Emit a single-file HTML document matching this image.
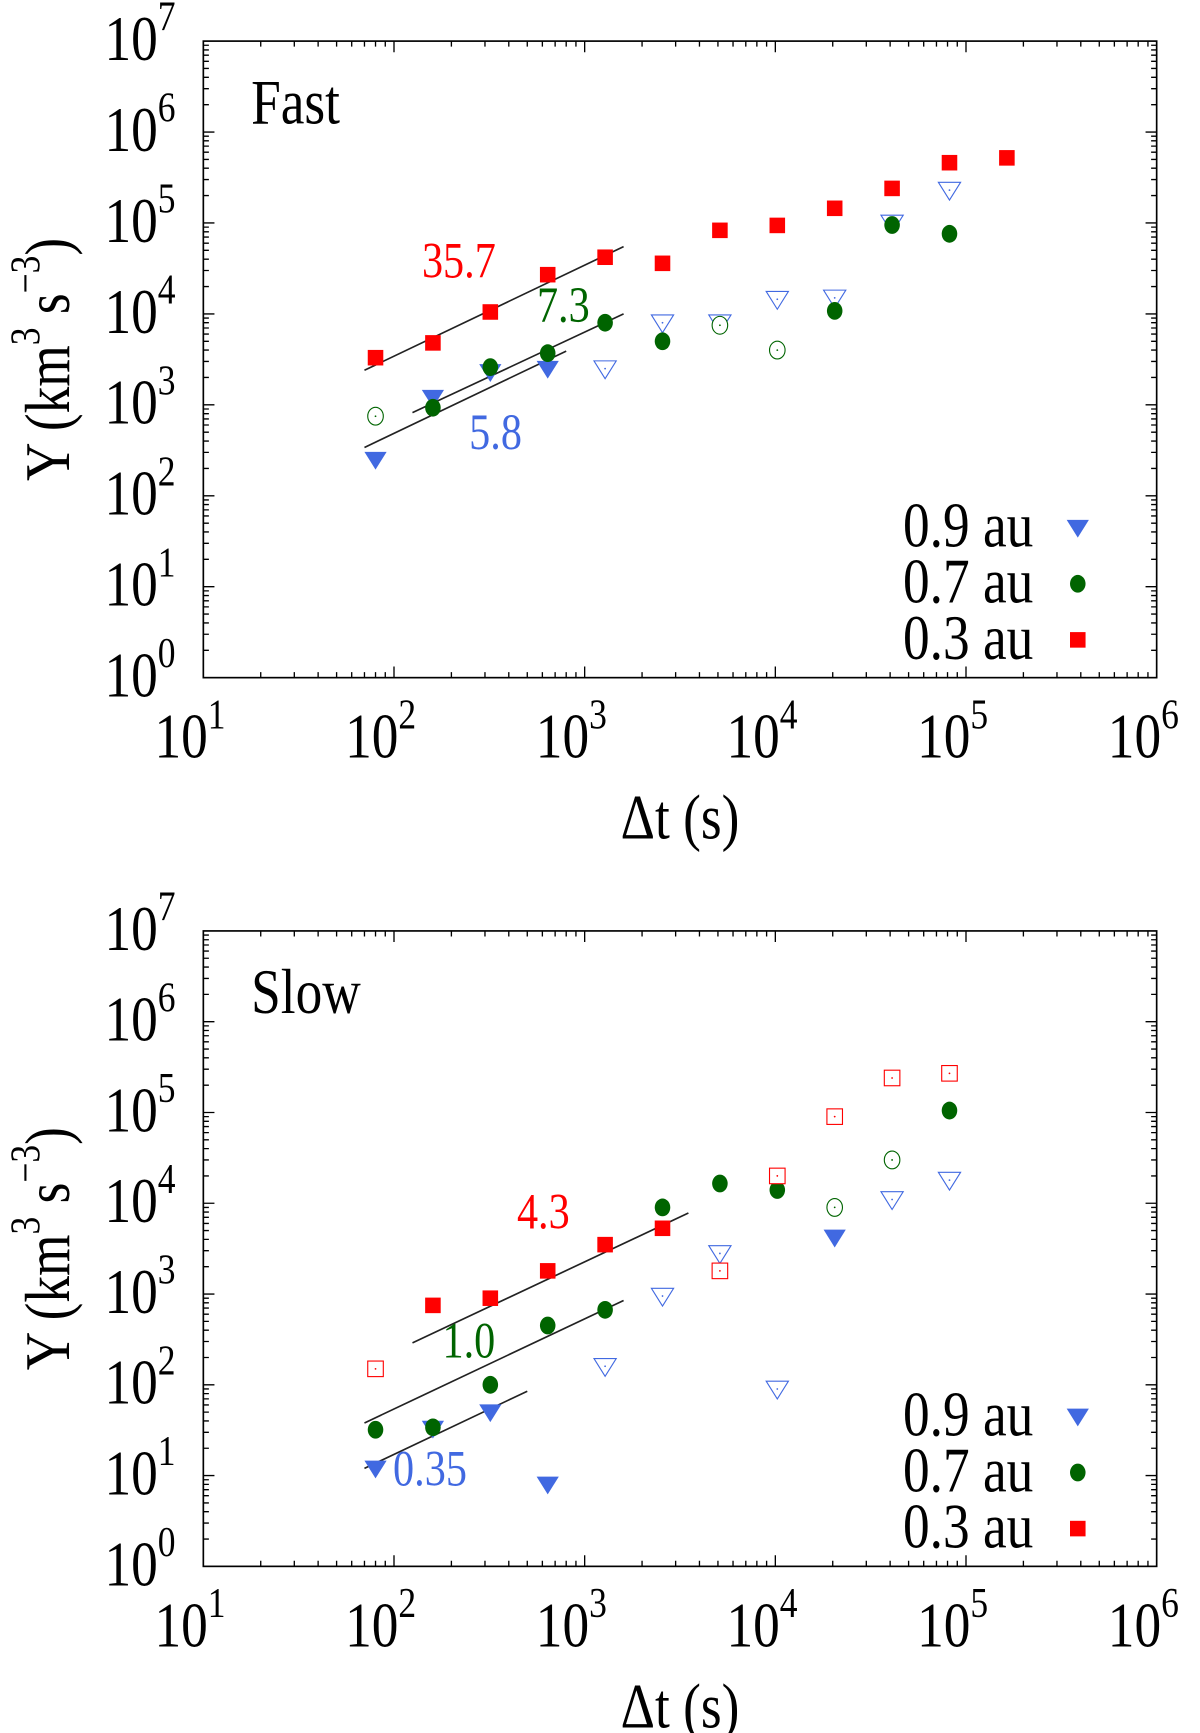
<!DOCTYPE html>
<html><head><meta charset="utf-8"><style>
html,body{margin:0;padding:0;background:#fff;}
svg{display:block;font-family:"Liberation Serif",serif;}
</style></head><body>
<svg id="chart" width="1200" height="1733" viewBox="0 0 1080 1560" preserveAspectRatio="none" xmlns="http://www.w3.org/2000/svg"></svg>
<script>
const xs = [80,160,320,640,1280,2560,5120,10240,20480,40960,81920,163840];
// Fast panel: [x-index, value, filled]
const fastRed   = [[0,3300,1],[1,4800,1],[2,10500,1],[3,27000,1],[4,42000,1],[5,36000,1],[6,83000,1],[7,94000,1],[8,145000,1],[9,240000,1],[10,460000,1],[11,520000,1]];
const fastGreen = [[0,750,0],[1,930,1],[2,2600,1],[3,3700,1],[4,8000,1],[5,5000,1],[6,7500,0],[7,4000,0],[8,10800,1],[9,95000,1],[10,76000,1]];
const fastBlue  = [[0,250,1],[1,1200,1],[2,2300,1],[3,2500,1],[4,2500,0],[5,8000,0],[6,8000,0],[7,14500,0],[8,15000,0],[9,100000,0],[10,230000,0]];
const fastFits  = [[70,2400,1600,55000],[125,820,1600,10000],[70,340,800,3900]];
const fastLabels= [['35.7',413,250,'#ff0000'],['7.3',507,290,'#006400'],['5.8',446,404,'#4169e1']];
// Slow panel
const slowRed   = [[0,150,0],[1,750,1],[2,900,1],[3,1800,1],[4,3500,1],[5,5300,1],[6,1800,0],[7,20000,0],[8,90000,0],[9,240000,0],[10,270000,0]];
const slowGreen = [[0,32,1],[1,34,1],[2,100,1],[3,450,1],[4,670,1],[5,9000,1],[6,16500,1],[7,14000,1],[8,9000,0],[9,30000,0],[10,105000,1]];
const slowBlue  = [[0,12,1],[1,33,1],[2,50,1],[3,8,1],[4,160,0],[5,950,0],[6,2800,0],[7,90,0],[8,4200,1],[9,11000,0],[10,18000,0]];
const slowFits  = [[125,290,3500,7800],[70,38,1600,850],[70,12,500,85]];
const slowLabels= [['4.3',489,1106,'#ff0000'],['1.0',422,1222,'#006400'],['0.35',387,1337,'#4169e1']];
const xTicks = [1,2,3,4,5,6];
const yTicks = [0,1,2,3,4,5,6,7];

const svg = document.getElementById('chart');
const NS = 'http://www.w3.org/2000/svg';
function el(tag, attrs, parent){const e=document.createElementNS(NS,tag);for(const k in attrs)e.setAttribute(k,attrs[k]);(parent||svg).appendChild(e);return e;}
function txt(x,y,size,sy,attrs,parent){const a=Object.assign({x:0,y:0,'font-size':size,transform:`translate(${x} ${y}) scale(1 ${sy})`},attrs);return el('text',a,parent);}
const RED='#ff0000', GREEN='#006400', BLUE='#4169e1';

function panel(top, bottom, title, red, green, blue, fits, labels, legY, name){
  const L=183,R=1041;
  const g=el('g',{});
  
  
  const X=v=>L+(Math.log10(v)-1)/5*(R-L);
  const Y=v=>bottom-Math.log10(v)/7*(bottom-top);
  const fr=el('rect',{x:L,y:top,width:R-L,height:bottom-top,fill:'none',stroke:'#000','stroke-width':1.5},g);
  
  
  let d='';
  for(let e=1;e<6;e++)for(let m=1;m<10;m++){const x=X(m*Math.pow(10,e));const len=m===1?10:5;
    if(m===1&&e===1)continue;
    d+=`M${x} ${bottom}v${-len}M${x} ${top}v${len}`;}
  for(let e=0;e<7;e++)for(let m=1;m<10;m++){const y=Y(m*Math.pow(10,e));const len=m===1?10:5;
    if(m===1&&e===0)continue;
    d+=`M${L} ${y}h${len}M${R} ${y}h${-len}`;}
  el('path',{d:d,stroke:'#000','stroke-width':1.2,fill:'none'},g);
  xTicks.forEach(e=>{
    const t=txt(X(Math.pow(10,e))-12,bottom+72,48,1.2,{'text-anchor':'middle'},g);
    
    
    t.textContent='10';
    const s=el('tspan',{dy:-22,'font-size':32},t);s.textContent=e;
  });
  yTicks.forEach(e=>{
    const t=txt(126,Y(Math.pow(10,e))+17,48,1.2,{'text-anchor':'middle'},g);
    
    
    t.textContent='10';
    const s=el('tspan',{dy:-22,'font-size':32},t);s.textContent=e;
  });
  const xt=txt(612,bottom+145,48,1.2,{'text-anchor':'middle'},g);
  
  
  xt.textContent='\u0394t (s)';
  const cy=(top+bottom)/2;
  const yt=el('text',{x:0,y:0,'font-size':48,'text-anchor':'middle',transform:`translate(62 ${cy}) rotate(-90) scale(1 1.2)`},g);
  
  
  yt.textContent='Y (km';
  const s1=el('tspan',{dy:-22,'font-size':32},yt);s1.textContent='3';
  const s2=el('tspan',{dy:22,'font-size':48},yt);s2.textContent=' s';
  const s3=el('tspan',{dy:-22,'font-size':32},yt);s3.textContent='\u22123';
  const s4=el('tspan',{dy:22,'font-size':48},yt);s4.textContent=')';
  const pt=txt(226,top+74,48,1.2,{},g);
  
  
  pt.textContent=title;
  fits.forEach(f=>{
    const ln=el('line',{x1:X(f[0]),y1:Y(f[1]),x2:X(f[2]),y2:Y(f[3]),stroke:'#222','stroke-width':1.5},g);
    
    
  });
  labels.forEach(l=>{
    const t=txt(l[1],l[2],38,1.2,{fill:l[3],'text-anchor':'middle'},g);
    
    
    t.textContent=l[0];
  });
  function sq(x,y,fill,par){return el('rect',{x:x-7,y:y-7,width:14,height:14,fill:fill?RED:'#fff',stroke:RED,'stroke-width':fill?0:1},par);}
  function ci(x,y,fill,par){return el('ellipse',{cx:x,cy:y,rx:7,ry:8,fill:fill?GREEN:'#fff',stroke:GREEN,'stroke-width':fill?0:1},par);}
  function tr(x,y,fill,par){return el('path',{d:`M${x-10} ${y-7}h20l-10 16z`,fill:fill?BLUE:'#fff',stroke:BLUE,'stroke-width':fill?0:1},par);}
  function dot(x,y,c,par){el('circle',{cx:x,cy:y,r:0.8,fill:c},par);}
  const series=[[blue,tr,BLUE,'blue-09au'],[green,ci,GREEN,'green-07au'],[red,sq,RED,'red-03au']];
  series.forEach(s=>{
    s[0].forEach(p=>{
      const x=X(xs[p[0]]),y=Y(p[1]);
      const m=s[1](x,y,p[2],g);
      
      
      if(!p[2])dot(x,y,s[2],g);
    });
  });
  const lg=[['0.9 au',tr],['0.7 au',ci],['0.3 au',sq]];
  lg.forEach((l,i)=>{
    const y=legY+i*50.5;
    const t=txt(930,y+17,48,1.2,{'text-anchor':'end'},g);
    
    
    t.textContent=l[0];
    const m=l[1](970,y,1,g);
    
    
  });
}
panel(37,610,'Fast',fastRed,fastGreen,fastBlue,fastFits,fastLabels,475,'fast-panel');
panel(838,1410,'Slow',slowRed,slowGreen,slowBlue,slowFits,slowLabels,1275,'slow-panel');
</script>
</body></html>
